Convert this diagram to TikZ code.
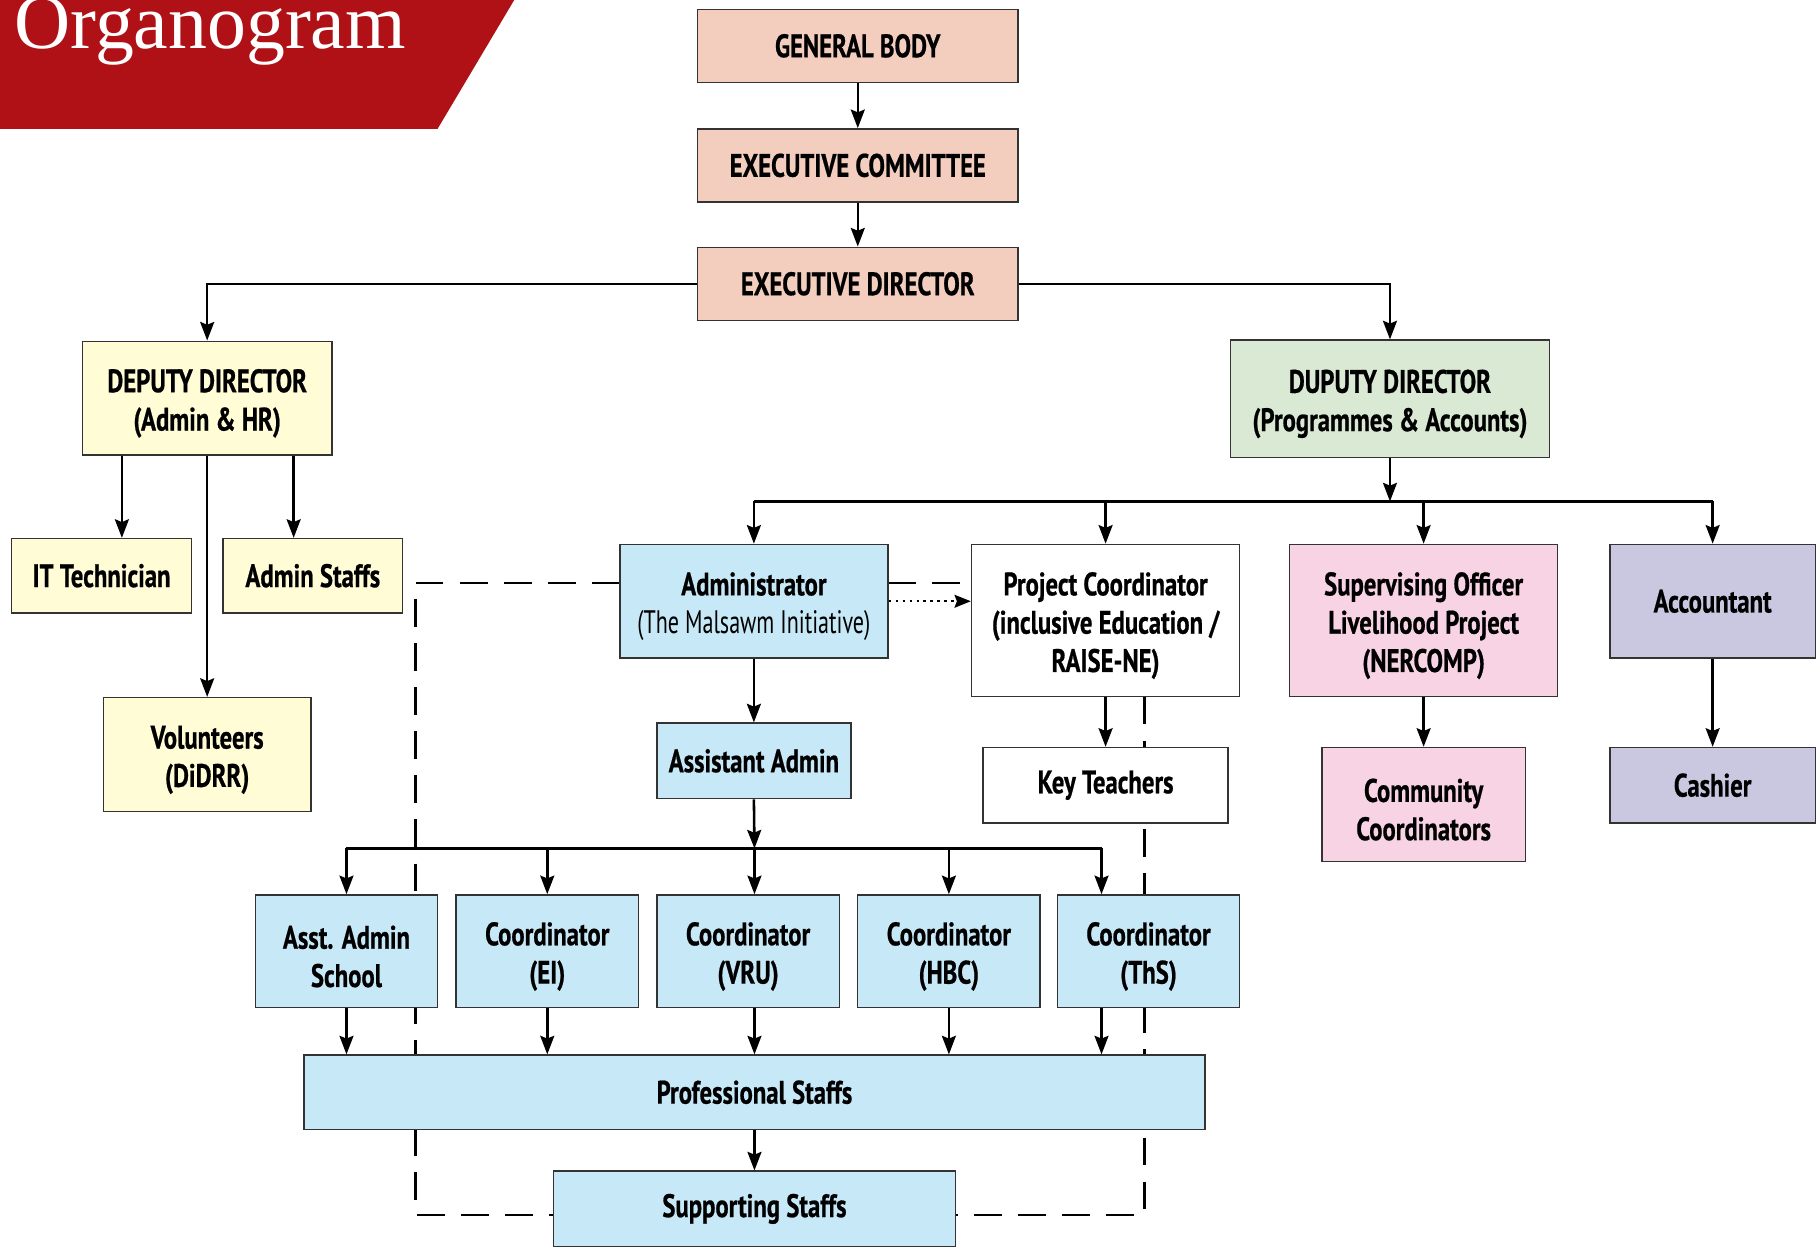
\documentclass[tikz,border=0pt]{standalone}
\usepackage{fontspec}
\setmainfont{PT Sans}[FakeStretch=0.76, BoldFeatures={FakeBold=0.6}]
\newfontfamily\lightcond{PT Sans}[FakeStretch=0.68]
\newfontfamily\titlefont{Liberation Serif}
\usetikzlibrary{arrows.meta,calc}
\definecolor{salmon}{HTML}{F3CEBF}
\definecolor{lyellow}{HTML}{FFFCD6}
\definecolor{lgreen}{HTML}{D9E9D3}
\definecolor{lblue}{HTML}{C6E8F7}
\definecolor{lpink}{HTML}{F8D3E4}
\definecolor{lpurple}{HTML}{CAC8E1}
\definecolor{bannerred}{HTML}{AF1117}
\newcommand{\tstr}{\rule{0pt}{14.5pt}}
\tikzset{
  box/.style={draw=black!80, line width=0.6pt, inner sep=2pt, align=center,
    font=\fontsize{14}{16.5}\selectfont\bfseries, text=black},
  conn/.style={line width=1.1pt},
  arr/.style={conn, -{Stealth[length=8pt,width=6pt,inset=1.2pt]}},
  dotarr/.style={line width=1pt, dotted, -{Stealth[length=7pt,width=5.5pt,inset=1pt]}},
  dashline/.style={line width=1pt, dash pattern=on 12pt off 7pt},
}
\begin{document}
\begin{tikzpicture}[x=0.5pt,y=-0.5pt]
\useasboundingbox (0,0) rectangle (1568,1076);
% banner
\fill[bannerred] (0,-5) -- (446,-5) -- (377,111) -- (0,111) -- cycle;
\node[anchor=base west, inner sep=0, text=white, font=\titlefont\fontsize{33.5}{33.5}\selectfont] (title) at (12,42) {Organogram};

% coordinates
\coordinate (itx) at (105,0);
\coordinate (asx) at (253,0);
\coordinate (busA) at (1197.5,432);
\coordinate (busB) at (650,731);
\coordinate (x5) at (949,0);
\coordinate (dl) at (358,502);

% dashed lines (behind boxes)
\draw[dashline] (534,502) -- (dl) |- (477,1047);
\draw[dashline] (765,502) -- (837,502);
\draw[dashline] (986,600) |- (823,1047);

% nodes
\node[box, fill=salmon, minimum width=138pt, minimum height=31.5pt] (gb) at (739,39.5) {GENERAL BODY};
\node[box, fill=salmon, minimum width=138pt, minimum height=31.5pt] (ec) at (739,142.5) {EXECUTIVE COMMITTEE};
\node[box, fill=salmon, minimum width=138pt, minimum height=31.5pt] (ed) at (739,244.5) {EXECUTIVE DIRECTOR};
\node[box, fill=lyellow, minimum width=107.5pt, minimum height=49pt] (dd1) at (178.5,343) {\tstr DEPUTY DIRECTOR\\(Admin \& HR)};
\node[box, fill=lgreen, minimum width=137.5pt, minimum height=50.5pt] (dd2) at (1197.5,343.5) {\tstr DUPUTY DIRECTOR\\(Programmes \& Accounts)};
\node[box, fill=lyellow, minimum width=77.5pt, minimum height=32pt] (it) at (87.5,496) {IT Technician};
\node[box, fill=lyellow, minimum width=77.5pt, minimum height=32pt] (as) at (269.5,496) {Admin Staffs};
\node[box, fill=lyellow, minimum width=89.5pt, minimum height=49pt] (vol) at (178.5,650) {\tstr Volunteers\\(DiDRR)};
\node[box, fill=lblue, minimum width=115.5pt, minimum height=49pt] (adm) at (649.5,518) {\tstr Administrator\\{\lightcond\mdseries (The Malsawm Initiative)}};
\node[box, fill=white, minimum width=115.5pt, minimum height=65.5pt] (pc) at (952.5,534.5) {\tstr Project Coordinator\\(inclusive Education /\\RAISE-NE)};
\node[box, fill=lpink, minimum width=115.5pt, minimum height=65.5pt] (so) at (1226.5,534.5) {\tstr Supervising Officer\\Livelihood Project\\(NERCOMP)};
\node[box, fill=lpurple, minimum width=88.5pt, minimum height=49pt] (acc) at (1475.5,518) {Accountant};
\node[box, fill=lblue, minimum width=83.5pt, minimum height=32.5pt] (aa) at (649.5,655.5) {Assistant Admin};
\node[box, fill=white, minimum width=105.5pt, minimum height=32.5pt] (kt) at (952.5,676.5) {Key Teachers};
\node[box, fill=lpink, minimum width=87.5pt, minimum height=49pt] (cc) at (1226.5,693) {\tstr Community\\Coordinators};
\node[box, fill=lpurple, minimum width=88.5pt, minimum height=32.5pt] (cash) at (1475.5,676.5) {Cashier};
\node[box, fill=lblue, minimum width=78.5pt, minimum height=48.5pt] (c1) at (298.5,819.5) {\tstr Asst. Admin\\School};
\node[box, fill=lblue, minimum width=78.5pt, minimum height=48.5pt] (c2) at (471.5,819.5) {\tstr Coordinator\\(EI)};
\node[box, fill=lblue, minimum width=78.5pt, minimum height=48.5pt] (c3) at (644.5,819.5) {\tstr Coordinator\\(VRU)};
\node[box, fill=lblue, minimum width=78.5pt, minimum height=48.5pt] (c4) at (817.5,819.5) {\tstr Coordinator\\(HBC)};
\node[box, fill=lblue, minimum width=78.5pt, minimum height=48.5pt] (c5) at (989.5,819.5) {\tstr Coordinator\\(ThS)};
\node[box, fill=lblue, minimum width=388pt, minimum height=32pt] (ps) at (650,941) {Professional Staffs};
\node[box, fill=lblue, minimum width=173pt, minimum height=32.5pt] (ss) at (650,1041.5) {Supporting Staffs};

% connectors
\draw[arr] (gb) -- (ec);
\draw[arr] (ec) -- (ed);
\draw[arr] (ed.west) -| (dd1.north);
\draw[arr] (ed.east) -| (dd2.north);
\draw[arr] (dd1.south -| itx) -- (it.north -| itx);
\draw[arr] (dd1.south -| asx) -- (as.north -| asx);
\draw[arr] (dd1.south) -- (vol.north);

\draw[arr] (dd2.south) -- (busA);
\draw[conn] (adm.north |- busA) -- (acc.north |- busA);
\foreach \n in {adm,pc,so,acc} \draw[arr] (\n.north |- busA) -- (\n.north);

\draw[dotarr] (adm.east) -- (pc.west |- adm.east);
\draw[arr] (adm) -- (aa);
\draw[arr] (pc) -- (kt);
\draw[arr] (so) -- (cc);
\draw[arr] (acc) -- (cash);

\draw[arr] (aa.south) -- (busB);
\draw[conn] (c1.north |- busB) -- (x5 |- busB);
\draw[arr] (c1.north |- busB) -- (c1.north);
\draw[arr] (c2.north |- busB) -- (c2.north);
\draw[arr] (busB) -- (c3.north -| busB);
\draw[arr] (c4.north |- busB) -- (c4.north);
\draw[arr] (x5 |- busB) -- (c5.north -| x5);

\draw[arr] (c1.south) -- (ps.north -| c1.south);
\draw[arr] (c2.south) -- (ps.north -| c2.south);
\draw[arr] (c3.south -| busB) -- (ps.north -| busB);
\draw[arr] (c4.south) -- (ps.north -| c4.south);
\draw[arr] (c5.south -| x5) -- (ps.north -| x5);
\draw[arr] (ps) -- (ss);
\end{tikzpicture}
\end{document}
